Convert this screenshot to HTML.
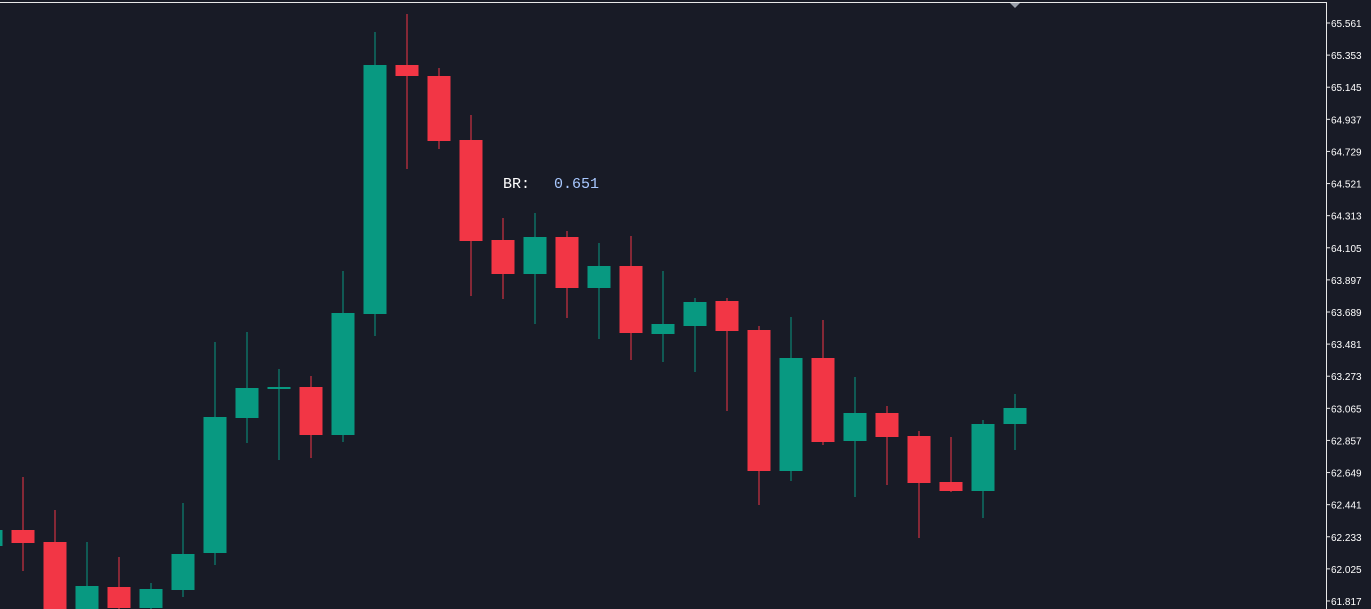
<!DOCTYPE html>
<html><head><meta charset="utf-8"><style>
html,body{margin:0;padding:0;background:#181b26;}
svg{display:block}
</style></head><body>
<svg width="1371" height="609" xmlns="http://www.w3.org/2000/svg">
<rect width="1371" height="609" fill="#181b26"/>
<line x1="0" y1="2.5" x2="1326" y2="2.5" stroke="#e8e8e8" stroke-width="1"/>
<line x1="1326.5" y1="2" x2="1326.5" y2="609" stroke="#e8e8e8" stroke-width="1"/>
<polygon points="1010,3 1020,3 1015,8" fill="#9aa0aa"/>
<g font-family="Liberation Sans, sans-serif" font-size="10" fill="#ffffff" id="ax"></g>
<g id="c"></g>
<text x="503" y="188" font-family="Liberation Mono, monospace" font-size="15" fill="#ffffff">BR:</text>
<text x="554" y="188" font-family="Liberation Mono, monospace" font-size="15" fill="#a8c8ff">0.651</text>
</svg>
<script>
var ns="http://www.w3.org/2000/svg";
var ax=document.getElementById('ax');
var labels=["65.561","65.353","65.145","64.937","64.729","64.521","64.313","64.105","63.897","63.689","63.481","63.273","63.065","62.857","62.649","62.441","62.233","62.025","61.817"];
labels.forEach(function(l,i){var y=23+i*32.11;
var ln=document.createElementNS(ns,'line');ln.setAttribute('x1',1326);ln.setAttribute('x2',1330);ln.setAttribute('y1',y);ln.setAttribute('y2',y);ln.setAttribute('stroke','#e8e8e8');ax.appendChild(ln);
var t=document.createElementNS(ns,'text');t.setAttribute('x',1331);t.setAttribute('y',y+4);t.textContent=l;ax.appendChild(t);});
var G="#089981",R="#f23645";
var d=[[-9,G,530,546,530,546],[23,R,530,543,477,571],[55,R,542,612,510,612],[87,G,586,612,542,612],[119,R,587,608,557,612],[151,G,589,608,583,612],[183,G,554,590,503,597],[215,G,417,553,342,565],[247,G,388,418,332,443],[279,G,387,389,369,460],[311,R,387,435,376,458],[343,G,313,435,271,442],[375,G,65,314,32,336],[407,R,65,76,14,169],[439,R,76,141,68,149],[471,R,140,241,115,296],[503,R,240,274,218,299],[535,G,237,274,213,324],[567,R,237,288,231,318],[599,G,266,288,243,339],[631,R,266,333,236,360],[663,G,324,334,271,362],[695,G,302,326,298,372],[727,R,301,331,298,411],[759,R,330,471,326,505],[791,G,358,471,317,481],[823,R,358,442,320,445],[855,G,413,441,377,497],[887,R,413,437,406,485],[919,R,436,483,431,538],[951,R,482,491,437,492],[983,G,424,491,420,518],[1015,G,408,424,394,450]];
var c=document.getElementById('c');
d.forEach(function(k){
var w=document.createElementNS(ns,'rect');w.setAttribute('x',k[0]-0.5);w.setAttribute('width',1);w.setAttribute('y',k[4]);w.setAttribute('height',k[5]-k[4]);w.setAttribute('fill',k[1]);c.appendChild(w);
var b=document.createElementNS(ns,'rect');b.setAttribute('x',k[0]-11.5);b.setAttribute('width',23);b.setAttribute('y',k[2]);b.setAttribute('height',Math.max(1,k[3]-k[2]));b.setAttribute('fill',k[1]);c.appendChild(b);});
</script>
</body></html>
